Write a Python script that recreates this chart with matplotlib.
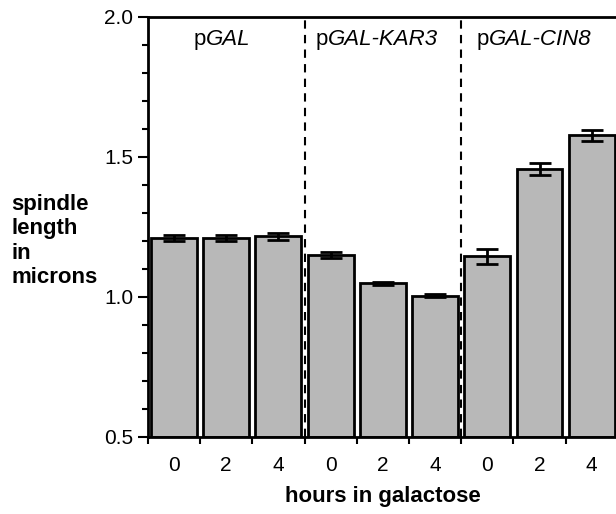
import matplotlib.pyplot as plt
import numpy as np

plt.rcParams['font.family'] = ['Liberation Sans', 'DejaVu Sans']

hours = ['0', '2', '4', '0', '2', '4', '0', '2', '4']
strain_names = ['GAL', 'GAL-KAR3', 'GAL-CIN8']
lengths = [1.211, 1.211, 1.216, 1.15, 1.048, 1.005, 1.145, 1.457, 1.578]
errors = [0.011, 0.011, 0.011, 0.011, 0.006, 0.005, 0.026, 0.02, 0.02]

fig = plt.figure(figsize=(6.16, 5.14), dpi=100)
ax = fig.add_axes([0.240, 0.150, 0.763, 0.817])

x = np.arange(len(lengths)) + 0.5
ax.bar(x, [v - 0.5 for v in lengths], bottom=0.5, width=0.88, color='#b8b8b8',
       edgecolor='black', linewidth=2)
ax.errorbar(x, lengths, yerr=errors, fmt='none', ecolor='black', elinewidth=2,
            capsize=8, capthick=2)

# dashed lines between strains
for xv in [3, 6]:
    ax.axvline(xv, color='black', linestyle=(0, (4, 3)), linewidth=1.5)

# strain labels: roman "p" + italic gene name
label_x = [0.87, 3.22, 6.3]
for lx, s in zip(label_x, strain_names):
    t = ax.text(lx, 1.918, 'p', ha='left', va='center', fontsize=16)
    ax.annotate(s, xy=(1, 0), xycoords=t, ha='left', va='bottom', fontsize=16,
                style='italic')

ax.set_xlim(0, 9)
ax.set_ylim(0.5, 2.0)
ax.set_xticks(np.arange(0, 10), minor=False)
ax.set_xticklabels([])
ax.set_xticks(x, minor=True)
ax.set_xticklabels(hours, minor=True, fontsize=15)
ax.tick_params(axis='x', which='minor', length=0, pad=14)
ax.tick_params(axis='x', which='major', length=5, width=1.5, direction='out')
ax.set_yticks([0.5, 1.0, 1.5, 2.0])
ax.set_yticklabels(['0.5', '1.0', '1.5', '2.0'], fontsize=15)
ax.set_yticks(np.arange(0.5, 2.01, 0.1), minor=True)
ax.tick_params(axis='y', which='both', direction='out', width=1.5)
ax.tick_params(axis='y', which='major', length=7)
ax.tick_params(axis='y', which='minor', length=4)
for sp in ax.spines.values():
    sp.set_linewidth(2)

ax.set_xlabel('hours in galactose', fontsize=16, fontweight='bold', labelpad=8)
fig.text(0.018, 0.531, 'spindle\nlength\nin\nmicrons', fontsize=16, fontweight='bold',
         ha='left', va='center', linespacing=1.2)

plt.savefig('out.png')
